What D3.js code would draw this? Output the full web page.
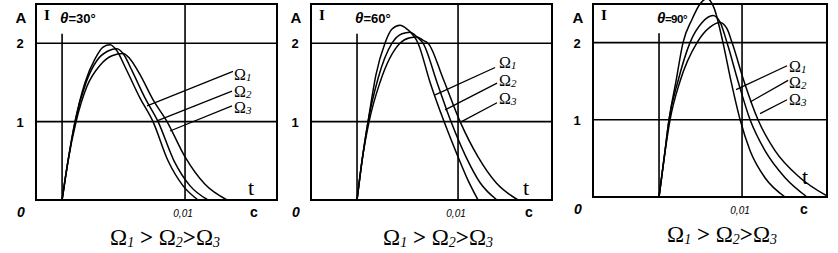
<html>
<head>
<meta charset="utf-8">
<style>
  body { margin: 0; background: #fff; }
  .frame { fill: none; stroke: #000; stroke-width: 2px; }
  .grid { stroke: #000; stroke-width: 1.6px; }
  .curve { fill: none; stroke: #000; stroke-width: 1.5px; }
  .leader { stroke: #000; stroke-width: 1.3px; }
  .sans { font-family: "Liberation Sans", Arial, sans-serif; font-weight: bold; }
  .serif { font-family: "Liberation Serif", "Times New Roman", serif; }
</style>
</head>
<body>
<script src="https://cdn.jsdelivr.net/npm/d3@7"></script>
<script>
// angles and series
var angles = ["30°", "60°", "90°"];
var seriesNames = ["1", "2", "3"];          // subscripts of Omega
var onset = [0.00175, 0.00313, 0.00443];    // start of the curves, s
var yTicks = [1, 2];
var xTickValue = 0.01, xTickLabel = "0,01";

// curves [t (s), A] per angle: Omega1, Omega2, Omega3
var curves30 = [
  [[0.00175,0],[0.00215,0.5],[0.00262,1.0],[0.00329,1.5],[0.00396,1.8],[0.00450,1.95],[0.00497,1.98],[0.00544,1.9],[0.00597,1.7],[0.00698,1.3],[0.00785,1.0],[0.00886,0.5],[0.00987,0.18],[0.01087,0]],
  [[0.00175,0],[0.00215,0.5],[0.00262,1.0],[0.00336,1.5],[0.00409,1.78],[0.00483,1.9],[0.00544,1.93],[0.00591,1.85],[0.00644,1.65],[0.00732,1.3],[0.00819,1.0],[0.00926,0.5],[0.01034,0.18],[0.01154,0]],
  [[0.00175,0],[0.00215,0.5],[0.00269,1.0],[0.00342,1.45],[0.00430,1.72],[0.00510,1.84],[0.00584,1.87],[0.00631,1.8],[0.00698,1.6],[0.00785,1.28],[0.00879,1.0],[0.01000,0.55],[0.01134,0.2],[0.01282,0]]
];
var curves60 = [
  [[0.00313,0],[0.00347,0.5],[0.00388,1.0],[0.00442,1.6],[0.00503,2.0],[0.00551,2.18],[0.00605,2.23],[0.00653,2.18],[0.00728,2.0],[0.00810,1.5],[0.00905,1.0],[0.01000,0.55],[0.01068,0.25],[0.01136,0]],
  [[0.00313,0],[0.00347,0.5],[0.00388,1.0],[0.00456,1.55],[0.00551,2.0],[0.00619,2.12],[0.00673,2.14],[0.00721,2.08],[0.00762,2.0],[0.00857,1.5],[0.00952,1.0],[0.01054,0.55],[0.01150,0.22],[0.01265,0]],
  [[0.00313,0],[0.00347,0.5],[0.00395,1.0],[0.00469,1.5],[0.00605,2.0],[0.00673,2.07],[0.00721,2.08],[0.00769,2.03],[0.00796,2.0],[0.00898,1.55],[0.01014,1.0],[0.01136,0.55],[0.01259,0.22],[0.01408,0]]
];
var curves90 = [
  [[0.00443,0],[0.00477,0.5],[0.00510,1.0],[0.00557,1.5],[0.00604,2.0],[0.00664,2.3],[0.00718,2.5],[0.00765,2.57],[0.00812,2.45],[0.00872,2.0],[0.00926,1.5],[0.00987,1.0],[0.01054,0.6],[0.01154,0.25],[0.01289,0]],
  [[0.00443,0],[0.00477,0.5],[0.00510,1.0],[0.00570,1.5],[0.00651,2.0],[0.00732,2.26],[0.00805,2.35],[0.00852,2.27],[0.00899,2.0],[0.00973,1.5],[0.01054,1.0],[0.01154,0.6],[0.01289,0.25],[0.01436,0]],
  [[0.00443,0],[0.00477,0.5],[0.00517,1.0],[0.00584,1.5],[0.00698,2.0],[0.00785,2.2],[0.00852,2.26],[0.00899,2.18],[0.00933,2.0],[0.01013,1.5],[0.01107,1.0],[0.01221,0.6],[0.01389,0.25],[0.01564,0.02]]
];

// leader lines: [t on curve, A on curve, t at label, A at label]
var leaders30 = [[0.00745,1.20,0.01322,1.64],[0.00812,1.01,0.01315,1.39],[0.00899,0.88,0.01315,1.20]];
var leaders60 = [[0.00844,1.34,0.01252,1.69],[0.00912,1.15,0.01265,1.49],[0.01014,0.99,0.01265,1.24]];
var leaders90 = [[0.00960,1.39,0.01302,1.70],[0.01054,1.23,0.01309,1.51],[0.01121,1.08,0.01302,1.26]];
// label baselines [t, A]
var labels30 = [[0.01329,1.53],[0.01329,1.32],[0.01329,1.11]];
var labels60 = [[0.01279,1.69],[0.01279,1.46],[0.01279,1.23]];
var labels90 = [[0.01315,1.62],[0.01315,1.41],[0.01315,1.19]];

var curves = [curves30, curves60, curves90];
var leaders = [leaders30, leaders60, leaders90];
var labels = [labels30, labels60, labels90];

// panel frames in pixels
var frames = [
  {left: 36, right: 277, top: 4, bottom: 200, tMax: 0.01617},
  {left: 311, right: 552, top: 4, bottom: 200, tMax: 0.01639},
  {left: 593, right: 827, top: 4, bottom: 197, tMax: 0.01570}
];

var svg = d3.select("body").append("svg")
  .attr("width", 838)
  .attr("height", 253);

frames.forEach(function(f, i) {
  var x = d3.scaleLinear().domain([0, f.tMax]).range([f.left, f.right]);
  var y = d3.scaleLinear().domain([0, 2.5]).range([f.bottom, f.top]);
  var g = svg.append("g");

  var line = d3.line()
    .x(function(d) { return x(d[0]); })
    .y(function(d) { return y(d[1]); })
    .curve(d3.curveMonotoneX);

  // grid
  g.selectAll(".hgrid").data(yTicks).enter().append("line")
    .attr("class", "grid")
    .attr("x1", f.left).attr("x2", f.right)
    .attr("y1", function(d) { return y(d); }).attr("y2", function(d) { return y(d); });
  g.append("line").attr("class", "grid")
    .attr("x1", x(xTickValue)).attr("x2", x(xTickValue))
    .attr("y1", f.top).attr("y2", f.bottom);
  g.append("line").attr("class", "grid")
    .attr("x1", x(onset[i])).attr("x2", x(onset[i]))
    .attr("y1", y(0)).attr("y2", y(2.12));

  // curves
  g.selectAll(".curve").data(curves[i]).enter().append("path")
    .attr("class", "curve")
    .attr("d", line);

  // leaders
  g.selectAll(".leader").data(leaders[i]).enter().append("line")
    .attr("class", "leader")
    .attr("x1", function(d) { return x(d[0]); }).attr("y1", function(d) { return y(d[1]); })
    .attr("x2", function(d) { return x(d[2]); }).attr("y2", function(d) { return y(d[3]); });

  // frame
  g.append("rect").attr("class", "frame")
    .attr("x", f.left).attr("y", f.top)
    .attr("width", f.right - f.left).attr("height", f.bottom - f.top);

  // series labels
  var lab = g.selectAll(".om").data(labels[i]).enter().append("text")
    .attr("class", "serif")
    .attr("x", function(d) { return x(d[0]); })
    .attr("y", function(d) { return y(d[1]); })
    .style("font-size", "16px");
  lab.append("tspan").text("Ω");
  lab.append("tspan").attr("dy", 1).style("font-size", "11px").style("font-style", "italic")
    .text(function(d, j) { return seriesNames[j]; });

  // axis texts
  g.selectAll(".yl").data(yTicks).enter().append("text")
    .attr("class", "sans")
    .attr("x", f.left - 16).attr("y", function(d) { return y(d) + 5; })
    .attr("text-anchor", "middle")
    .style("font-size", "13px")
    .text(function(d) { return d; });
  g.append("text").attr("class", "sans")
    .attr("x", f.left - 15).attr("y", f.top + 19)
    .attr("text-anchor", "middle").style("font-size", "15px").text("A");
  g.append("text").attr("class", "sans")
    .attr("x", f.left - 15).attr("y", f.bottom + 17)
    .attr("text-anchor", "middle").style("font-size", "14px").style("font-style", "italic").text("0");
  g.append("text").attr("class", "sans")
    .attr("x", x(xTickValue) - 2).attr("y", f.bottom + 17)
    .attr("text-anchor", "middle").style("font-size", "10px").style("font-style", "italic")
    .style("font-weight", "normal").text(xTickLabel);
  g.append("text").attr("class", "sans")
    .attr("x", f.right - 23).attr("y", f.bottom + 17)
    .attr("text-anchor", "middle").style("font-size", "14px").text("c");
  g.append("text").attr("class", "serif")
    .attr("x", i === 2 ? f.right - 22 : f.right - 26).attr("y", i === 2 ? f.bottom - 13 : f.bottom - 5)
    .attr("text-anchor", "middle").style("font-size", "22px").text("t");

  // panel number and angle
  g.append("text").attr("class", "serif")
    .attr("x", f.left + 8).attr("y", f.top + 16)
    .style("font-size", "15px").style("font-weight", "bold").text("I");
  var ang = g.append("text").attr("class", "sans")
    .attr("x", x(onset[i]) - 2).attr("y", f.top + 19)
    .style("font-size", "15px")
    .style("letter-spacing", i === 2 ? "-0.5px" : "0px");
  ang.append("tspan").style("font-style", "italic").text("θ");
  ang.append("tspan").style("font-size", i === 2 ? "11.5px" : "13px").text("=" + angles[i]);

  // bottom caption
  var cap = g.append("text").attr("class", "serif")
    .attr("x", x(xTickValue) - 20).attr("y", f.bottom + 45)
    .attr("text-anchor", "middle")
    .style("font-size", "23px");
  seriesNames.forEach(function(s, j) {
    cap.append("tspan").text((j === 1 ? " " : "") + "Ω");
    cap.append("tspan").attr("dy", 2).style("font-size", "14px").style("font-style", "italic").text(s);
    if (j < 2) cap.append("tspan").attr("dy", -2).style("font-weight", "bold").text(j === 0 ? " >" : ">");
  });
});
</script>
</body>
</html>
